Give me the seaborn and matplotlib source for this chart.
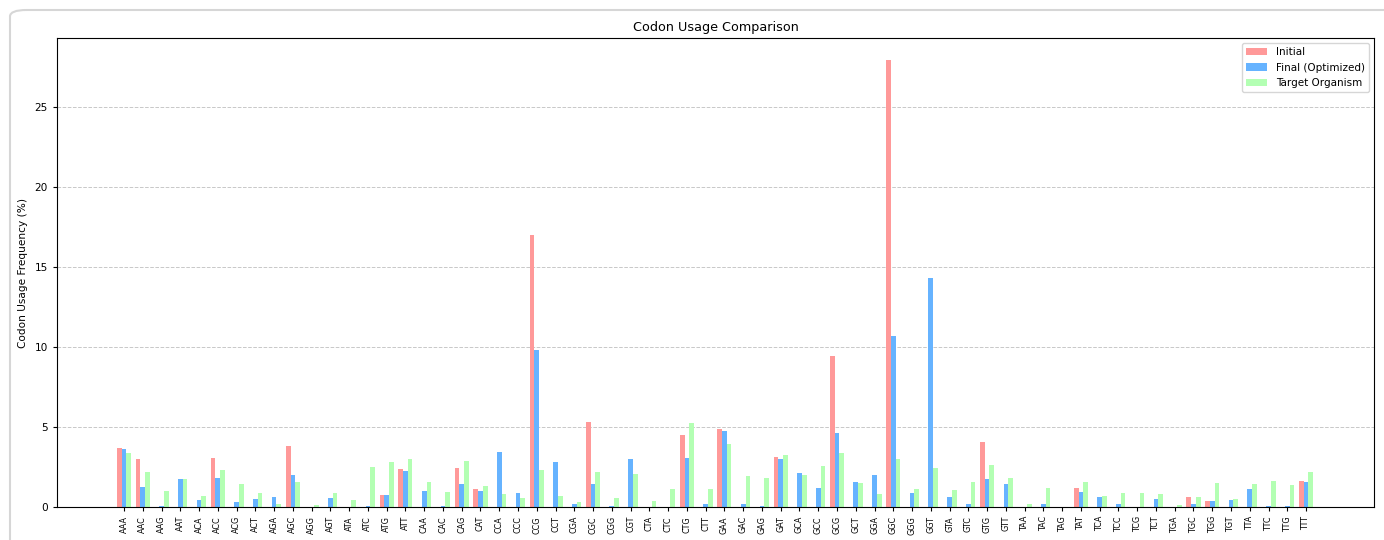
import numpy as np
import pandas as pd
import matplotlib
matplotlib.use("Agg")
import matplotlib.pyplot as plt
from matplotlib.patches import FancyBboxPatch
import seaborn as sns

codons = ["AAA","AAC","AAG","AAT","ACA","ACC","ACG","ACT","AGA","AGC","AGG","AGT",
          "ATA","ATC","ATG","ATT","CAA","CAC","CAG","CAT","CCA","CCC","CCG","CCT",
          "CGA","CGC","CGG","CGT","CTA","CTC","CTG","CTT","GAA","GAC","GAG","GAT",
          "GCA","GCC","GCG","GCT","GGA","GGC","GGG","GGT","GTA","GTC","GTG","GTT",
          "TAA","TAC","TAG","TAT","TCA","TCC","TCG","TCT","TGA","TGC","TGG","TGT",
          "TTA","TTC","TTG","TTT"]

initial = [3.67, 3.0, 0, 0, 0, 3.08, 0, 0, 0, 3.81, 0, 0,
           0, 0, 0.75, 2.38, 0, 0, 2.42, 1.13, 0, 0, 17.0, 0,
           0, 5.29, 0, 0, 0, 0, 4.48, 0, 4.85, 0, 0, 3.13,
           0, 0, 9.46, 0, 0, 27.9, 0, 0, 0, 0, 4.04, 0,
           0, 0, 0, 1.19, 0, 0, 0, 0, 0, 0.65, 0.35, 0,
           0, 0, 0, 1.6]

final = [3.6, 1.27, 0.08, 1.73, 0.44, 1.83, 0.29, 0.5, 0.6, 2.0, 0, 0.58,
         0, 0.08, 0.75, 2.25, 1.02, 0.08, 1.42, 1.02, 3.46, 0.88, 9.81, 2.83,
         0.21, 1.42, 0.08, 3.0, 0, 0, 3.08, 0.21, 4.77, 0.17, 0.08, 3.0,
         2.13, 1.17, 4.63, 1.56, 2.0, 10.69, 0.88, 14.31, 0.63, 0.21, 1.75, 1.42,
         0, 0.21, 0, 0.92, 0.6, 0.17, 0, 0.5, 0, 0.21, 0.35, 0.46,
         1.13, 0.08, 0.08, 1.54]

target = [3.35, 2.17, 1.02, 1.73, 0.69, 2.31, 1.44, 0.88, 0.21, 1.58, 0.12, 0.88,
          0.44, 2.5, 2.79, 3.02, 1.54, 0.96, 2.88, 1.33, 0.83, 0.54, 2.31, 0.69,
          0.33, 2.21, 0.54, 2.06, 0.38, 1.13, 5.27, 1.13, 3.96, 1.94, 1.79, 3.23,
          2.02, 2.56, 3.38, 1.5, 0.79, 3.0, 1.13, 2.46, 1.08, 1.56, 2.65, 1.83,
          0.21, 1.21, 0, 1.58, 0.71, 0.88, 0.88, 0.83, 0.12, 0.65, 1.5, 0.5,
          1.42, 1.65, 1.35, 2.21]

series_names = ["Initial", "Final (Optimized)", "Target Organism"]
series_colors = ["#ff9999", "#66b3ff", "#b3ffb3"]

df = pd.DataFrame({
    "Codon": codons * 3,
    "Frequency": initial + final + target,
    "Series": [series_names[0]] * len(codons) + [series_names[1]] * len(codons) + [series_names[2]] * len(codons),
})

fig = plt.figure(figsize=(13.84, 5.40), dpi=100)
frame = FancyBboxPatch((10 / 1384, -0.2), 1.2, 1.2 - 10 / 540,
                       boxstyle="round,pad=0,rounding_size=0.012",
                       transform=fig.transFigure, facecolor="white",
                       edgecolor="#d6d6d6", linewidth=1.5, zorder=-10)
fig.patches.append(frame)

ax = fig.add_axes([57 / 1384, 33 / 540, (1374 - 57) / 1384, (507 - 38) / 540])
sns.barplot(data=df, x="Codon", y="Frequency", hue="Series", order=codons,
            hue_order=series_names, palette=series_colors, saturation=1,
            width=0.75, dodge=True, errorbar=None, linewidth=0, ax=ax)

ax.set_xlim(-3.57, len(codons) - 1 + 3.62)
ax.set_title("Codon Usage Comparison", fontsize=9.2, pad=5)
ax.set_xlabel("")
ax.set_ylabel("Codon Usage Frequency (%)", fontsize=7.6, labelpad=5)
ax.tick_params(axis="x", labelrotation=90, labelsize=5.8, length=3)
ax.tick_params(axis="y", labelsize=7.6, length=3)
ax.set_yticks([0, 5, 10, 15, 20, 25])
ax.grid(axis="y", linestyle="--", alpha=0.7, linewidth=0.7)
ax.set_axisbelow(True)
ax.legend(loc="upper right", fontsize=7.5, title=None)

fig.savefig("out.png", dpi=100)
